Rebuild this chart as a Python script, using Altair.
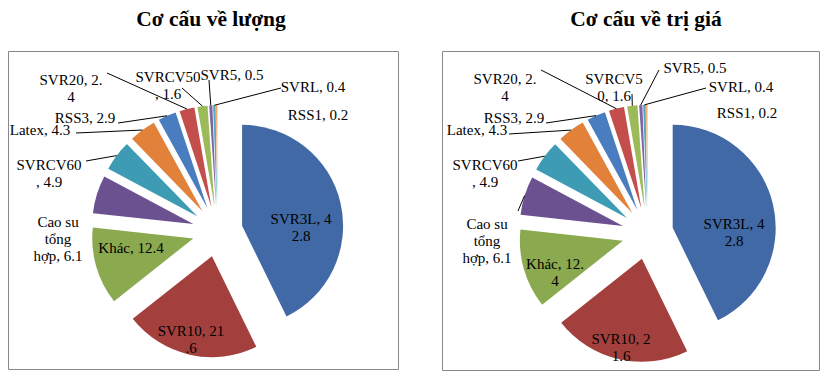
import math
import altair as alt
import pandas as pd

# ---------------- data ----------------
categories = ["SVR3L", "SVR10", "Khác", "Cao su tổng hợp", "SVRCV60", "Latex",
              "RSS3", "SVR20", "SVRCV50", "SVR5", "SVRL", "RSS1"]
luong = [42.8, 21.6, 12.4, 6.1, 4.9, 4.3, 2.9, 2.4, 1.6, 0.5, 0.4, 0.2]
tri_gia = [42.8, 21.6, 12.4, 6.1, 4.9, 4.3, 2.9, 2.4, 1.6, 0.5, 0.4, 0.2]
titles = ["Cơ cấu về lượng", "Cơ cấu về trị giá"]

# ---------------- style ----------------
colors = ["#4169A5", "#A3403D", "#8BAA50", "#6C5190", "#3D9BB4", "#E2823A",
          "#4A7DC0", "#C44E4B", "#9BBB59", "#7F63A3", "#4BACC6", "#F79646"]
EXPLODE = 0.25  # fraction of the radius (Excel explosion 25 %)
FONT = "Liberation Serif"

# label wrapping (character positions where Excel broke the line)
wraps = [
    {"SVR3L": [8], "SVR10": [9], "Cao su tổng hợp": [6, 11], "SVRCV60": [7],
     "SVR20": [9], "SVRCV50": [7]},
    {"SVR3L": [8], "SVR10": [8], "Khác": [9], "Cao su tổng hợp": [6, 11],
     "SVRCV60": [7], "SVR20": [9], "SVRCV50": [6]},
]

# label layout: offset of label centre from pie centre (px, y down),
# and optional leader-line anchor near the label
label_pos = [
    {"SVR3L": (83.5, -12.5), "SVR10": (-26.5, 99.5), "Khác": (-86.5, 16.5),
     "Cao su tổng hợp": (-159.5, -9.5), "SVRCV60": (-168.5, -67),
     "Latex": (-177.5, -101.5), "RSS3": (-132.5, -113.5), "SVR20": (-146.5, -152),
     "SVRCV50": (-49.5, -154.5), "SVR5": (14.5, -156.5), "SVRL": (95.5, -144.5),
     "RSS1": (100.5, -116.5)},
    {"SVR3L": (86.4, -10.1), "SVR10": (-26.6, 104.9), "Khác": (-92.6, 30.4),
     "Cao su tổng hợp": (-160.6, -9.6), "SVRCV60": (-162.6, -69.1),
     "Latex": (-170.6, -103.6), "RSS3": (-133.6, -115.6), "SVR20": (-142.6, -154.6),
     "SVRCV50": (-33.6, -154.6), "SVR5": (47.4, -165.6), "SVRL": (93.4, -146.6),
     "RSS1": (99.4, -120.6)},
]
leader_pos = [
    {"SVRCV60": (-131.5, -70.5), "Latex": (-141.5, -98.5), "RSS3": (-99.5, -108.5),
     "SVR20": (-110.5, -158.5), "SVRCV50": (-35.5, -143.5), "SVR5": (-8.5, -151.5),
     "SVRL": (63.5, -143.5)},
    {"Cao su tổng hợp": (-129.6, -22.6), "SVRCV60": (-129.6, -72.6),
     "Latex": (-138.6, -99.6), "RSS3": (-101.6, -110.6), "SVR20": (-106.6, -163.6),
     "SVRCV50": (-15.6, -139.6), "SVR5": (11.4, -163.6), "SVRL": (58.4, -145.6)},
]

# panel geometry: width, height, pie centre (px), radius (px), title dx
panels = [
    {"W": 390, "H": 318, "cx": 209.5, "cy": 180.5, "R": 101, "dx": 8},
    {"W": 377, "H": 319, "cx": 205.6, "cy": 182.6, "R": 103, "dx": 15.5},
]


def wrap(s, pos):
    parts, prev = [], 0
    for p in pos:
        parts.append(s[prev:p].strip(" "))
        prev = p
    parts.append(s[prev:].strip(" "))
    return "\n".join(parts)


def make_panel(i, values):
    g = panels[i]
    R = g["R"]
    rows = []
    for k, (c, v) in enumerate(zip(categories, values)):
        full = f"{c}, {v}"
        lab = wrap(full, wraps[i].get(c, []))
        lx, ly = label_pos[i][c]
        a = leader_pos[i].get(c)
        rows.append({
            "cat": c, "value": v, "order": k, "label": lab,
            "lx": lx / R, "ly": -ly / R,
            "ax": (a[0] / R) if a else None,
            "ay": (-a[1] / R) if a else None,
        })
    df = pd.DataFrame(rows)

    xs = alt.Scale(domain=[-g["cx"] / R, (g["W"] - g["cx"]) / R], nice=False, zero=False)
    ys = alt.Scale(domain=[-(g["H"] - g["cy"]) / R, g["cy"] / R], nice=False, zero=False)

    base = (
        alt.Chart(df)
        .transform_window(cum="sum(value)", sort=[alt.SortField("order")], frame=[None, 0])
        .transform_joinaggregate(total="sum(value)")
        .transform_calculate(
            t0="2*PI*(datum.cum-datum.value)/datum.total",
            t1="2*PI*datum.cum/datum.total",
        )
        .transform_calculate(tm="(datum.t0+datum.t1)/2")
        .transform_calculate(
            px=f"{EXPLODE}*sin(datum.tm)",
            py=f"{EXPLODE}*cos(datum.tm)",
            ex=f"{EXPLODE + 1}*sin(datum.tm)",
            ey=f"{EXPLODE + 1}*cos(datum.tm)",
        )
    )

    arcs = base.mark_arc(radius=R).encode(
        x=alt.X("px:Q", scale=xs, axis=None),
        y=alt.Y("py:Q", scale=ys, axis=None),
        theta=alt.Theta("t0:Q", scale=None, stack=None),
        theta2="t1:Q",
        color=alt.Color("cat:N", scale=alt.Scale(domain=categories, range=colors), legend=None),
    )

    leaders = base.transform_filter("isValid(datum.ax)").mark_rule(
        color="black", strokeWidth=1
    ).encode(
        x=alt.X("ex:Q", scale=xs, axis=None),
        y=alt.Y("ey:Q", scale=ys, axis=None),
        x2="ax:Q",
        y2="ay:Q",
    )

    labels = base.mark_text(
        font=FONT, fontSize=15, lineBreak="\n", lineHeight=17,
        align="center", baseline="middle", color="black",
    ).encode(
        x=alt.X("lx:Q", scale=xs, axis=None),
        y=alt.Y("ly:Q", scale=ys, axis=None),
        text="label:N",
    )

    return alt.layer(arcs, leaders, labels).properties(
        width=g["W"], height=g["H"],
        title=alt.TitleParams(
            text=titles[i], font=FONT, fontSize=21.5, fontWeight="bold",
            color="black", anchor="middle", frame="group", offset=21, dx=g["dx"],
        ),
    )


chart = (
    alt.hconcat(make_panel(0, luong), make_panel(1, tri_gia), spacing=44, bounds="flush")
    .resolve_scale(x="independent", y="independent")
    .configure(font=FONT)
    .configure_view(stroke="#888888", strokeWidth=1)
    .properties(padding={"left": 7, "top": 8, "right": 0, "bottom": 0}, background="white")
)

chart.save("out.html", embed_options={"renderer": "svg", "actions": False})
